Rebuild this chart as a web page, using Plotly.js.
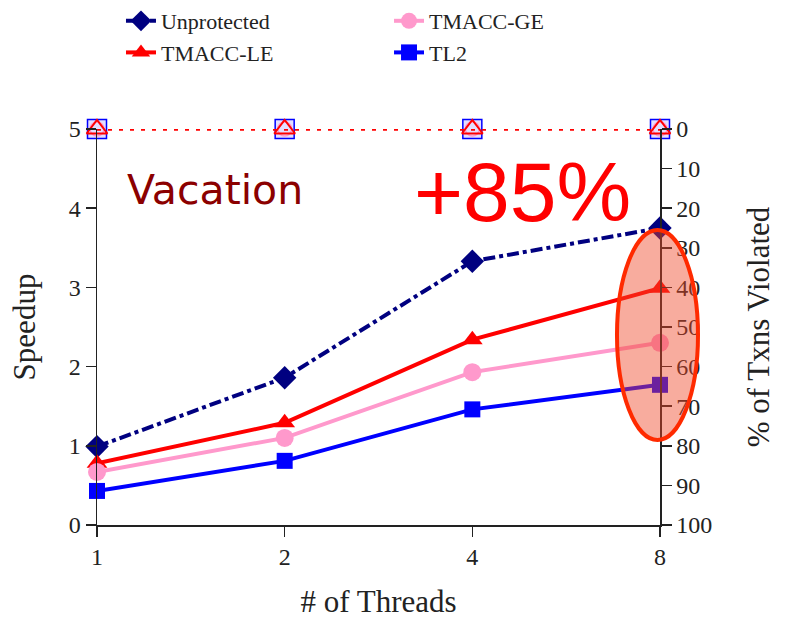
<!DOCTYPE html>
<html>
<head>
<meta charset="utf-8">
<script src="https://cdn.plot.ly/plotly-3.0.1.min.js"></script>
<style>
  html, body { margin: 0; padding: 0; background: #fff; }
  #chart { width: 792px; height: 619px; }
</style>
</head>
<body>
<div id="chart"></div>
<script>
// Thread counts on the x axis
const threads = [1, 2, 4, 8];
const threadLabels = ['1', '2', '4', '8'];

// Speedup per configuration
const unprotected = [0.99, 1.86, 3.33, 3.75];
const tmaccLE = [0.78, 1.29, 2.34, 2.99];
const tmaccGE = [0.67, 1.10, 1.93, 2.30];
const tl2 = [0.43, 0.81, 1.46, 1.77];

// Percentage of transactions violated (right axis)
const violatedTL2 = [0, 0, 0, 0];
const violatedGE = [0, 0, 0, 0];
const violatedLE = [0, 0, 0, 0];

const serif = 'Liberation Serif, Times New Roman, serif';

const traces = [
  {
    x: threads, y: unprotected, name: 'Unprotected', type: 'scatter', mode: 'lines+markers',
    legend: 'legend', cliponaxis: false,
    line: { color: '#000080', width: 4, dash: 'dashdot' },
    marker: { symbol: 'diamond', size: 18, color: '#000080' }
  },
  {
    x: threads, y: tmaccLE, name: 'TMACC-LE', type: 'scatter', mode: 'lines+markers',
    legend: 'legend', cliponaxis: false,
    line: { color: '#ff0000', width: 4 },
    marker: { symbol: 'triangle-up', size: 18, color: '#ff0000' }
  },
  {
    x: threads, y: tmaccGE, name: 'TMACC-GE', type: 'scatter', mode: 'lines+markers',
    legend: 'legend2', cliponaxis: false,
    line: { color: '#ff99cc', width: 4 },
    marker: { symbol: 'circle', size: 18, color: '#ff99cc' }
  },
  {
    x: threads, y: tl2, name: 'TL2', type: 'scatter', mode: 'lines+markers',
    legend: 'legend2', cliponaxis: false,
    line: { color: '#0000ff', width: 4 },
    marker: { symbol: 'square', size: 16, color: '#0000ff' }
  },
  {
    x: threads, y: violatedTL2, yaxis: 'y2', type: 'scatter', mode: 'markers', showlegend: false,
    cliponaxis: false,
    marker: { symbol: 'square', size: 19, color: 'rgba(200,190,255,0.5)', line: { color: '#0000ff', width: 1.5 } }
  },
  {
    x: threads, y: violatedGE, yaxis: 'y2', type: 'scatter', mode: 'markers', showlegend: false,
    cliponaxis: false,
    marker: { symbol: 'circle-open', size: 14, color: '#ff99cc', line: { width: 1.5 } }
  },
  {
    x: threads, y: violatedLE, yaxis: 'y2', type: 'scatter', mode: 'lines+markers', showlegend: false,
    cliponaxis: false,
    line: { color: '#ff0000', width: 3.5, dash: '4px,7px' },
    marker: { symbol: 'triangle-up-open', size: 18, color: '#ff0000', line: { width: 2 } }
  }
];

const axisCommon = {
  showgrid: false, zeroline: false, showline: true,
  linecolor: '#222', linewidth: 1.5,
  ticks: 'outside', ticklen: 10, tickwidth: 1.5, tickcolor: '#222',
  tickfont: { family: serif, size: 24, color: '#222' }
};

const titleFont = { family: serif, size: 31, color: '#222' };

// Two stacked legend columns above the plot
const legendCommon = {
  orientation: 'v', xref: 'paper', yref: 'container',
  y: 1.005, xanchor: 'left', yanchor: 'top',
  font: { family: serif, size: 22, color: '#222' },
  bgcolor: 'rgba(0,0,0,0)'
};

const layout = {
  width: 792, height: 619,
  margin: { l: 97, r: 132, t: 129, b: 94 },
  paper_bgcolor: '#fff', plot_bgcolor: '#fff',
  xaxis: Object.assign({}, axisCommon, {
    type: 'log', range: [0, Math.log10(8)],
    tickvals: threads, ticktext: threadLabels,
    title: { text: '# of Threads', font: titleFont, standoff: 27 }
  }),
  yaxis: Object.assign({}, axisCommon, {
    range: [0, 5], dtick: 1,
    title: { text: 'Speedup', font: titleFont, standoff: 24 }
  }),
  yaxis2: Object.assign({}, axisCommon, {
    overlaying: 'y', side: 'right', range: [100, 0], dtick: 10,
    title: { text: '% of Txns Violated', font: titleFont, standoff: 36 }
  }),
  legend: Object.assign({}, legendCommon, { x: 0.0426 }),
  legend2: Object.assign({}, legendCommon, { x: 0.5187 }),
  shapes: [{
    type: 'circle', xref: 'paper', yref: 'paper', layer: 'above',
    x0: 0.9236, x1: 1.0675, y0: 0.2146, y1: 0.745,
    fillcolor: 'rgba(240,70,40,0.45)',
    line: { color: '#ff2a00', width: 4 }
  }],
  annotations: [
    {
      text: 'Vacation', xref: 'paper', yref: 'paper', x: 0.2096, y: 0.846,
      xanchor: 'center', yanchor: 'middle',
      showarrow: false, font: { family: 'DejaVu Sans, Verdana, sans-serif', size: 41, color: '#8b0000' }
    },
    {
      text: '+85%', xref: 'paper', yref: 'paper', x: 0.755, y: 0.841,
      xanchor: 'center', yanchor: 'middle',
      showarrow: false, font: { family: 'Liberation Sans, Arial, sans-serif', size: 84, color: '#ff0000' }
    }
  ]
};

Plotly.newPlot('chart', traces, layout, { displayModeBar: false, staticPlot: true });
</script>
</body>
</html>
